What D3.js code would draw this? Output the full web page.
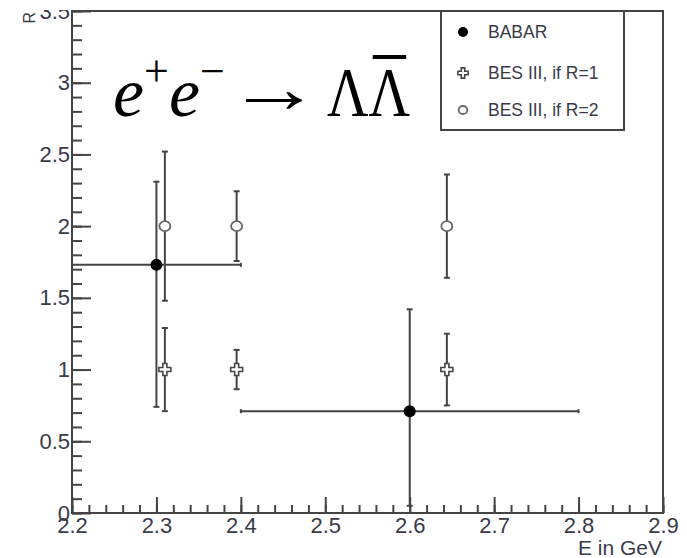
<!DOCTYPE html>
<html>
<head>
<meta charset="utf-8">
<script src="https://cdn.jsdelivr.net/npm/d3@7"></script>
<style>
  body { margin: 0; background: #fff; }
  svg { display: block; }
</style>
</head>
<body>
<svg width="687" height="558"></svg>
<script>
// ---- data ----
const xTicks = [2.2, 2.3, 2.4, 2.5, 2.6, 2.7, 2.8, 2.9];
const yTicks = [0, 0.5, 1, 1.5, 2, 2.5, 3, 3.5];

// BABAR: points with asymmetric y errors and x bins
const babarE = [2.3, 2.6];
const babarR = [1.73, 0.71];
const babarRlo = [0.74, 0.05];
const babarRhi = [2.31, 1.42];
const babarElo = [2.2, 2.4];
const babarEhi = [2.4, 2.8];

// BES III projections
const besE = [2.31, 2.395, 2.644];
const besR1 = [1, 1, 1];
const besR1err = [0.29, 0.137, 0.25];
const besR2 = [2, 2, 2];
const besR2err = [0.52, 0.243, 0.36];

const legendLabels = ["BABAR", "BES III, if R=1", "BES III, if R=2"];

// ---- layout ----
const pLeft = 72, pRight = 663, pTop = 11, pBottom = 513;
const ink = "#444";
const labelInk = "#3a3a48";

const svg = d3.select("svg");

//the picture is cut just above the frame
svg.append("clipPath").attr("id", "cut")
    .append("rect").attr("x", 0).attr("y", 10).attr("width", 687).attr("height", 548);

const x = d3.scaleLinear().domain([2.2, 2.9]).range([pLeft, pRight]);
const y = d3.scaleLinear().domain([0, 3.5]).range([pBottom, pTop]);

//frame
svg.append("rect")
    .attr("x", pLeft).attr("y", pTop)
    .attr("width", pRight - pLeft).attr("height", pBottom - pTop)
    .attr("fill", "none").attr("stroke", ink).attr("stroke-width", 2);

//minor ticks
const xMinor = d3.range(0, 36).map(i => 2.2 + i * 0.02);
const yMinor = d3.range(0, 36).map(i => i * 0.1);

svg.append("g")
    .attr("transform", "translate(0," + pBottom + ")")
    .call(d3.axisBottom(x).tickValues(xMinor).tickSize(-8).tickFormat(""))
    .call(g => g.select(".domain").remove());

svg.append("g")
    .attr("transform", "translate(" + pLeft + ",0)")
    .call(d3.axisLeft(y).tickValues(yMinor).tickSize(-10).tickFormat(""))
    .call(g => g.select(".domain").remove());

//major ticks + labels
svg.append("g")
    .attr("transform", "translate(0," + pBottom + ")")
    .call(d3.axisBottom(x).tickValues(xTicks).tickSize(-16).tickPadding(4).tickFormat(d3.format("")))
    .call(g => g.select(".domain").remove());

const topCut = svg.append("g").attr("clip-path", "url(#cut)");

topCut.append("g")
    .attr("transform", "translate(" + pLeft + ",0)")
    .call(d3.axisLeft(y).tickValues(yTicks).tickSize(-19).tickPadding(2).tickFormat(d3.format("")))
    .call(g => g.select(".domain").remove());

svg.selectAll(".tick line").attr("stroke", ink).attr("stroke-width", 2);
svg.selectAll(".tick text")
    .attr("fill", labelInk)
    .style("font-family", "Liberation Sans, Arial, sans-serif")
    .style("font-size", "22px");

//axis titles
svg.append("text")
    .attr("x", pRight - 1).attr("y", 555)
    .attr("text-anchor", "end")
    .attr("fill", labelInk)
    .style("font-family", "Liberation Sans, Arial, sans-serif")
    .style("font-size", "21px")
    .text("E in GeV");

topCut.append("text")
    .attr("transform", "translate(35,12) rotate(-90)")
    .attr("text-anchor", "end")
    .attr("fill", labelInk)
    .style("font-family", "Liberation Sans, Arial, sans-serif")
    .style("font-size", "16px")
    .text("R");

//error bar helpers
function vbar(g, xv, lo, hi) {
    g.append("line")
        .attr("x1", x(xv)).attr("x2", x(xv))
        .attr("y1", y(lo)).attr("y2", y(hi))
        .attr("stroke", ink).attr("stroke-width", 2);
    [lo, hi].forEach(v => {
        g.append("line")
            .attr("x1", x(xv) - 3).attr("x2", x(xv) + 3)
            .attr("y1", y(v)).attr("y2", y(v))
            .attr("stroke", ink).attr("stroke-width", 2);
    });
}

function hbar(g, yv, lo, hi) {
    g.append("line")
        .attr("x1", x(lo)).attr("x2", x(hi))
        .attr("y1", y(yv)).attr("y2", y(yv))
        .attr("stroke", ink).attr("stroke-width", 2);
    [lo, hi].forEach(v => {
        g.append("line")
            .attr("x1", x(v)).attr("x2", x(v))
            .attr("y1", y(yv) - 2).attr("y2", y(yv) + 2)
            .attr("stroke", ink).attr("stroke-width", 2);
    });
}

const crossPath = "M-2,-6H2V-2H6V2H2V6H-2V2H-6V-2H-2Z";

function drawCross(g, cx, cy, s) {
    g.append("path")
        .attr("d", crossPath)
        .attr("transform", "translate(" + cx + "," + cy + ") scale(" + (s || 1) + ")")
        .attr("fill", "#fff").attr("stroke", ink).attr("stroke-width", 1.6 / (s || 1));
}

function drawOpen(g, cx, cy, s) {
    g.append("ellipse")
        .attr("cx", cx).attr("cy", cy)
        .attr("rx", 5.5 * (s || 1)).attr("ry", 5 * (s || 1))
        .attr("fill", "#fff").attr("stroke", "#666").attr("stroke-width", 1.8);
}

const marks = svg.append("g");

//BES III, R=1 and R=2
besE.forEach((e, i) => {
    vbar(marks, e, besR1[i] - besR1err[i], besR1[i] + besR1err[i]);
    vbar(marks, e, besR2[i] - besR2err[i], besR2[i] + besR2err[i]);
});
besE.forEach((e, i) => {
    drawCross(marks, x(e), y(besR1[i]));
    drawOpen(marks, x(e), y(besR2[i]));
});

//BABAR
babarE.forEach((e, i) => {
    hbar(marks, babarR[i], babarElo[i], babarEhi[i]);
    vbar(marks, e, babarRlo[i], babarRhi[i]);
    marks.append("circle")
        .attr("cx", x(e)).attr("cy", y(babarR[i]))
        .attr("r", 6).attr("fill", "#000");
});

//legend
const lg = svg.append("g");
lg.append("rect")
    .attr("x", 441).attr("y", pTop)
    .attr("width", 183).attr("height", 119)
    .attr("fill", "#fff").attr("stroke", ink).attr("stroke-width", 2);

const rowY = [32, 73, 110];
lg.append("circle").attr("cx", 463).attr("cy", rowY[0]).attr("r", 5).attr("fill", "#000");
drawCross(lg, 463, rowY[1], 0.85);
drawOpen(lg, 463, rowY[2], 0.8);

legendLabels.forEach((t, i) => {
    lg.append("text")
        .attr("x", 488).attr("y", rowY[i])
        .attr("dy", "0.36em")
        .attr("fill", labelInk)
        .style("font-family", "Liberation Sans, Arial, sans-serif")
        .style("font-size", "17.5px")
        .text(t);
});

//reaction label e+e- -> Lambda Lambdabar
const serif = "Liberation Serif, Times New Roman, serif";
const eq = svg.append("text")
    .attr("x", 113).attr("y", 116)
    .attr("fill", "#000")
    .style("font-family", serif)
    .style("font-size", "70px");
eq.append("tspan").style("font-style", "italic").text("e");
eq.append("tspan").attr("dy", -30).style("font-size", "44px").text("+");
eq.append("tspan").attr("dy", 30).style("font-style", "italic").text("e");
eq.append("tspan").attr("dy", -30).style("font-size", "44px").text("\u2212");

svg.append("text")
    .attr("transform", "translate(227,112) scale(1.35,1)")
    .attr("fill", "#000")
    .style("font-family", serif)
    .style("font-size", "70px")
    .text("\u2192");

const lamText = svg.append("text")
    .attr("transform", "translate(327,116) scale(0.82,1)")
    .attr("fill", "#000")
    .style("font-family", serif)
    .style("font-size", "70px");
lamText.append("tspan").text("\u039B");
const lam = lamText.append("tspan").text("\u039B");

//bar over the second Lambda
const lb = lam.node().getBBox();
svg.append("line")
    .attr("x1", 327 + (lb.x + 5) * 0.82).attr("x2", 327 + (lb.x + lb.width - 5) * 0.82)
    .attr("y1", 57).attr("y2", 57)
    .attr("stroke", "#000").attr("stroke-width", 4);
</script>
</body>
</html>
